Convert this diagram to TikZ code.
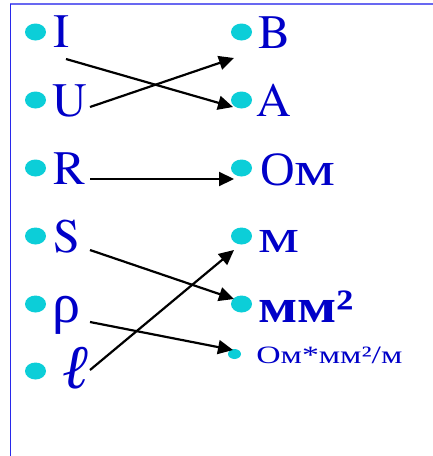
\documentclass[tikz,border=0pt]{standalone}
\usepackage{fontspec}
\setmainfont{texgyretermes}[Extension=.otf,UprightFont=*-regular,BoldFont=*-bold,ItalicFont=*-italic]
\newfontfamily\lserif{Liberation Serif}
\usetikzlibrary{arrows.meta,shapes.geometric}
\newcommand{\widem}{\scalebox{1.35}[1]{м}}
\definecolor{txtblue}{RGB}{0,0,200}
\definecolor{dotcyan}{RGB}{12,206,216}
\definecolor{frameblue}{RGB}{40,40,235}
\tikzset{
  dot/.style={ellipse,fill=dotcyan,inner sep=0pt,minimum width=21pt,minimum height=17pt},
  smalldot/.style={ellipse,fill=dotcyan,inner sep=0pt,minimum width=13pt,minimum height=10pt},
  lbl/.style={anchor=base west,inner sep=0pt,text=txtblue,font=\fontsize{48}{50}\selectfont},
  cyr/.style={anchor=base west,inner sep=0pt,text=txtblue,font=\lserif\fontsize{48}{50}\selectfont},
  unitbig/.style={anchor=base west,inner sep=0pt,text=txtblue,xscale=1.2,font=\lserif\fontsize{48}{50}\selectfont\bfseries},
  unitsmall/.style={anchor=base west,inner sep=0pt,text=txtblue,xscale=1.35,font=\lserif\fontsize{25}{28}\selectfont},
  conn/.style={black,line width=2.2pt,-{Triangle[length=15pt,width=14pt]}},
  frame/.style={line width=1.5pt}
}
\begin{document}
\begin{tikzpicture}[x=1pt,y=-1pt]
\useasboundingbox (0,0) rectangle (433,456);
\draw[frame,draw=frameblue!70] (10,4) -- (433,4);
\draw[frame,draw=frameblue] (10.5,4) -- (10.5,456);
% left bullets
\node[dot] (bI) at (35.5,32) {};
\node[dot] (bU) at (35.5,100) {};
\node[dot] (bR) at (35.5,168) {};
\node[dot] (bS) at (35.5,236) {};
\node[dot] (bP) at (35.5,304) {};
\node[dot] (bL) at (35.5,371) {};
% left labels
\node[lbl] (tI) at (53,47) {I};
\node[lbl] (tU) at (52,116) {U};
\node[lbl] (tR) at (53,184) {R};
\node[lbl] (tS) at (53,252) {S};
\node[cyr,font=\lserif\fontsize{56}{58}\selectfont] (tP) at (52,322) {ρ};
\node[cyr,font=\lserif\fontsize{62}{64}\selectfont\itshape] (tL) at (62,388) {ℓ};
% right bullets
\node[dot] (bB) at (241.5,32) {};
\node[dot] (bA) at (241.5,100) {};
\node[dot] (bO) at (241.5,168) {};
\node[dot] (bM) at (241.5,236) {};
\node[dot] (bMM) at (241.5,304) {};
\node[smalldot] (bR2) at (234.5,354) {};
% right labels
\node[lbl] (tB) at (258,48) {B};
\node[lbl] (tA) at (256,116) {A};
\node[cyr] (tO) at (260,185) {О\widem};
\node[cyr] (tM) at (258,252) {\widem};
\node[unitbig] (tMM) at (258,322) {мм²};
\node[unitsmall] (tOMM) at (256,363) {Ом*мм²/м};
% connector end points
\coordinate (sI) at (66,59);   \coordinate (eA) at (233,107);
\coordinate (sU) at (90,107);  \coordinate (eB) at (234,58);
\coordinate (sR) at (90,179);  \coordinate (eO) at (234,179);
\coordinate (sS) at (90,250);  \coordinate (eMM) at (234,299);
\coordinate (sL) at (90,370);  \coordinate (eM) at (234,250);
\coordinate (sP) at (90,322);  \coordinate (eR2) at (233,350);
\draw[conn] (sI) -- (eA);
\draw[conn] (sU) -- (eB);
\draw[conn] (sR) -- (eO);
\draw[conn] (sS) -- (eMM);
\draw[conn] (sL) -- (eM);
\draw[conn] (sP) -- (eR2);
\end{tikzpicture}
\end{document}
